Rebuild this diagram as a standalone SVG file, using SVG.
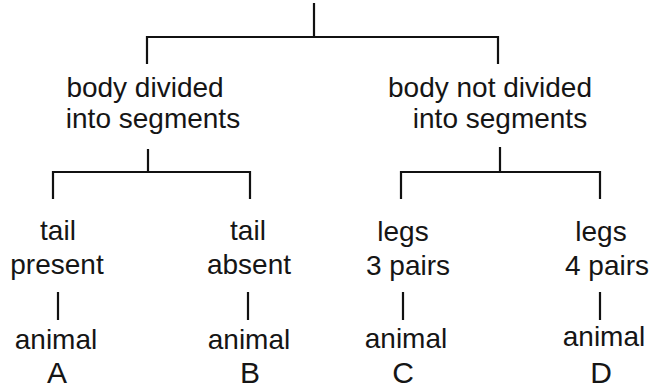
<svg xmlns="http://www.w3.org/2000/svg" width="653" height="391" viewBox="0 0 653 391">
<style>
  .t { font-family: "Liberation Sans", Arial, sans-serif; font-size: 28px; fill: #151515; text-anchor: middle; }
  .l { font-family: "Liberation Sans", Arial, sans-serif; font-size: 30px; fill: #151515; text-anchor: middle; }
  .c { fill: none; stroke: #111; stroke-width: 2.2; stroke-linecap: square; }
</style>
<rect width="653" height="391" fill="#fff"/>
<g id="connectors" class="c">
  <path d="M314 4 V37 M147 63 V37 H498 V63"/>
  <path d="M148 150 V172 M53 198 V172 H250 V198"/>
  <path d="M500 148 V172 M401 198 V172 H600 V198"/>
  <path d="M58 293 V319 M248 293 V319 M403 293 V319 M600 293 V319"/>
</g>
<g id="node-segmented">
  <text class="t" x="145" y="97">body divided</text>
  <text class="t" x="153" y="128">into segments</text>
</g>
<g id="node-not-segmented">
  <text class="t" x="490" y="97">body not divided</text>
  <text class="t" x="500" y="128">into segments</text>
</g>
<g id="node-tail-present">
  <text class="t" x="58" y="240">tail</text>
  <text class="t" x="57" y="274">present</text>
</g>
<g id="node-tail-absent">
  <text class="t" x="248" y="240">tail</text>
  <text class="t" x="249" y="274">absent</text>
</g>
<g id="node-legs-3">
  <text class="t" x="403" y="241">legs</text>
  <text class="t" x="408" y="275">3 pairs</text>
</g>
<g id="node-legs-4">
  <text class="t" x="601" y="241">legs</text>
  <text class="t" x="607" y="275">4 pairs</text>
</g>
<g id="node-animal-a">
  <text class="t" x="56" y="349">animal</text>
  <text class="l" x="57" y="383">A</text>
</g>
<g id="node-animal-b">
  <text class="t" x="249" y="349">animal</text>
  <text class="l" x="250" y="383">B</text>
</g>
<g id="node-animal-c">
  <text class="t" x="406" y="348">animal</text>
  <text class="l" x="403" y="383">C</text>
</g>
<g id="node-animal-d">
  <text class="t" x="604" y="346">animal</text>
  <text class="l" x="601" y="383">D</text>
</g>
</svg>
